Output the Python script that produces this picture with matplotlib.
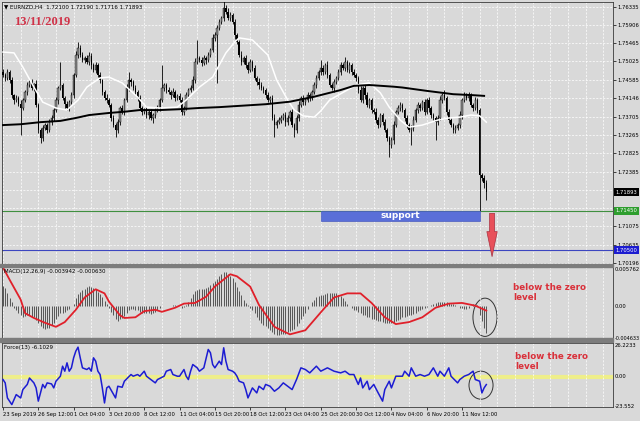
import numpy as np
import matplotlib.pyplot as plt
from matplotlib.patches import Ellipse, Rectangle

# EURNZD H4, bar 0 = 23 Sep 2019 20:00, last bar = 13 Nov 2019
first_open = 1.7478
closes = [
    1.7470, 1.7463, 1.7477, 1.7458, 1.7422, 1.7410, 1.7415, 1.7400, 1.7391, 1.7410,
    1.7429, 1.7446, 1.7453, 1.7439, 1.7448, 1.7398, 1.7338, 1.7319, 1.7343, 1.7350,
    1.7338, 1.7357, 1.7367, 1.7386, 1.7410, 1.7439, 1.7446, 1.7415, 1.7400, 1.7391,
    1.7405, 1.7422, 1.7470, 1.7518, 1.7535, 1.7518, 1.7506, 1.7511, 1.7501, 1.7516,
    1.7494, 1.7482, 1.7494, 1.7470, 1.7458, 1.7429, 1.7415, 1.7410, 1.7398, 1.7367,
    1.7350, 1.7338, 1.7357, 1.7391, 1.7381, 1.7410, 1.7439, 1.7458, 1.7453, 1.7439,
    1.7429, 1.7415, 1.7391, 1.7381, 1.7386, 1.7374, 1.7381, 1.7367, 1.7374, 1.7386,
    1.7391, 1.7410, 1.7439, 1.7446, 1.7434, 1.7429, 1.7422, 1.7429, 1.7415, 1.7420,
    1.7410, 1.7381, 1.7391, 1.7422, 1.7434, 1.7439, 1.7458, 1.7501, 1.7511, 1.7506,
    1.7499, 1.7511, 1.7506, 1.7518, 1.7530, 1.7559, 1.7566, 1.7583, 1.7597, 1.7607,
    1.7631, 1.7621, 1.7607, 1.7614, 1.7597, 1.7566, 1.7549, 1.7518, 1.7501, 1.7511,
    1.7494, 1.7482, 1.7501, 1.7487, 1.7463, 1.7453, 1.7446, 1.7439, 1.7434, 1.7422,
    1.7410, 1.7415, 1.7367, 1.7350, 1.7357, 1.7362, 1.7367, 1.7374, 1.7357, 1.7367,
    1.7381, 1.7350, 1.7338, 1.7367, 1.7398, 1.7415, 1.7405, 1.7410, 1.7422, 1.7415,
    1.7429, 1.7446, 1.7463, 1.7477, 1.7487, 1.7477, 1.7494, 1.7470, 1.7446, 1.7439,
    1.7453, 1.7463, 1.7477, 1.7494, 1.7487, 1.7501, 1.7482, 1.7494, 1.7477, 1.7470,
    1.7463, 1.7434, 1.7410, 1.7439, 1.7422, 1.7398, 1.7410, 1.7386, 1.7381, 1.7362,
    1.7350, 1.7374, 1.7357, 1.7338, 1.7319, 1.7302, 1.7314, 1.7350, 1.7381, 1.7391,
    1.7398, 1.7386, 1.7367, 1.7350, 1.7338, 1.7343, 1.7362, 1.7386, 1.7398, 1.7391,
    1.7405, 1.7381, 1.7410, 1.7391, 1.7374, 1.7367, 1.7357, 1.7367, 1.7410, 1.7422,
    1.7415, 1.7381, 1.7362, 1.7350, 1.7338, 1.7343, 1.7350, 1.7374, 1.7410, 1.7422,
    1.7415, 1.7422, 1.7398, 1.7391, 1.7410, 1.7386, 1.7230, 1.7223, 1.7210, 1.71893,
]
# wicks in pips above / below the body
upper_wick = [
    6, 5, 8, 4, 7, 3, 6, 5, 9, 4, 6, 8, 5, 7, 4, 10, 5, 6, 7, 4,
    5, 8, 6, 4, 7, 5, 55, 6, 4, 8, 5, 7, 6, 9, 15, 6, 8, 5, 7, 10,
    6, 4, 8, 5, 7, 3, 6, 9, 5, 4, 7, 6, 8, 5, 6, 4, 9, 19, 6, 5,
    7, 5, 8, 4, 6, 9, 5, 7, 4, 6, 8, 5, 55, 6, 4, 7, 5, 9, 6, 4,
    6, 8, 5, 7, 4, 6, 9, 10, 43, 5, 7, 6, 4, 8, 5, 9, 6, 7, 8, 5,
    19, 6, 9, 7, 5, 8, 4, 6, 10, 5, 7, 6, 8, 4, 6, 5, 9, 7, 4, 6,
    8, 5, 6, 9, 4, 7, 6, 5, 8, 6, 4, 7, 5, 6, 9, 5, 8, 4, 7, 6,
    5, 8, 6, 4, 19, 7, 5, 9, 6, 4, 8, 5, 7, 6, 4, 12, 6, 8, 5, 7,
    6, 4, 9, 5, 7, 8, 4, 6, 5, 9, 7, 6, 4, 8, 5, 6, 7, 9, 5, 6,
    8, 4, 6, 7, 5, 6, 9, 4, 7, 5, 6, 8, 5, 7, 4, 6, 5, 8, 9, 6,
    12, 5, 7, 6, 4, 8, 5, 9, 6, 7, 5, 8, 4, 6, 7, 5, 5, 6, 8, 9,
]
lower_wick = [
    5, 7, 4, 8, 6, 9, 5, 4, 65, 6, 5, 7, 4, 6, 8, 5, 7, 12, 6, 5,
    8, 4, 6, 7, 5, 9, 4, 6, 8, 5, 7, 4, 6, 5, 8, 6, 4, 7, 5, 6,
    9, 5, 6, 4, 7, 8, 5, 6, 4, 7, 5, 17, 6, 8, 4, 6, 5, 7, 9, 4,
    6, 8, 5, 7, 4, 6, 9, 5, 12, 6, 4, 7, 5, 8, 6, 4, 9, 5, 7, 6,
    5, 8, 6, 4, 7, 5, 6, 8, 4, 6, 7, 5, 9, 4, 6, 5, 8, 115, 6, 4,
    7, 5, 6, 8, 4, 9, 5, 6, 7, 4, 8, 6, 5, 7, 4, 6, 9, 5, 7, 6,
    5, 8, 6, 29, 7, 4, 6, 5, 9, 6, 7, 4, 17, 6, 8, 5, 6, 7, 4, 8,
    6, 5, 7, 4, 6, 8, 5, 7, 4, 6, 9, 5, 6, 7, 4, 8, 5, 6, 7, 4,
    8, 6, 5, 7, 9, 4, 6, 8, 5, 7, 6, 4, 8, 5, 7, 29, 6, 9, 5, 4,
    7, 5, 8, 6, 4, 36, 7, 5, 6, 8, 4, 7, 5, 9, 6, 5, 43, 7, 4, 8,
    5, 7, 6, 4, 8, 6, 5, 7, 9, 4, 6, 8, 5, 7, 4, 6, 86, 8, 12, 18,
]

# moving averages
ma_fast_bars = [0, 5, 9, 14, 18, 24, 29, 34, 38, 44, 48, 54, 61, 65, 71, 79, 83, 89, 95, 101,
                105, 107, 113, 120, 124, 129, 132, 136, 141, 144, 148, 156, 160, 166, 171, 175,
                180, 184, 190, 197, 202, 207, 212, 216, 219]
ma_fast_vals = [1.7525, 1.7523, 1.7489, 1.7441, 1.7405, 1.7391, 1.7386, 1.7410, 1.7441, 1.7463,
                1.7465, 1.7451, 1.7417, 1.7393, 1.7391, 1.7393, 1.7410, 1.7441, 1.7465, 1.7523,
                1.7549, 1.7559, 1.7554, 1.7518, 1.7458, 1.7410, 1.7386, 1.7372, 1.7369, 1.7384,
                1.7410, 1.7434, 1.7446, 1.7451, 1.7427, 1.7393, 1.7362, 1.7345, 1.7350, 1.7362,
                1.7367, 1.7369, 1.7374, 1.7372, 1.7357]
ma_slow_bars = [0, 8, 17, 26, 33, 39, 48, 55, 62, 71, 80, 89, 98, 107, 119, 130, 141, 153, 159,
                166, 177, 181, 192, 204, 212, 218]
ma_slow_vals = [1.7350, 1.7352, 1.7357, 1.7360, 1.7367, 1.7374, 1.7379, 1.7382, 1.7386, 1.7386,
                1.7388, 1.7391, 1.7393, 1.7396, 1.7400, 1.7406, 1.7418, 1.7434, 1.7444, 1.7446,
                1.7442, 1.7440, 1.7432, 1.7424, 1.7422, 1.7420]

# MACD(12,26,9)
macd_hist = [
    0.0030, 0.0027, 0.0020, 0.0012, 0.0006, -0.0003, -0.0006, -0.0009, -0.0012, -0.0015,
    -0.0014, -0.0012, -0.0013, -0.0015, -0.0016, -0.0020, -0.0025, -0.0029, -0.0031, -0.0033,
    -0.0032, -0.0031, -0.0028, -0.0024, -0.0019, -0.0014, -0.0010, -0.0009, -0.0008, -0.0006,
    -0.0004, 0.0000, 0.0004, 0.0012, 0.0018, 0.0021, 0.0024, 0.0026, 0.0028, 0.0030,
    0.0029, 0.0027, 0.0025, 0.0021, 0.0018, 0.0013, 0.0008, 0.0003, -0.0003, -0.0008,
    -0.0013, -0.0018, -0.0021, -0.0019, -0.0017, -0.0014, -0.0010, -0.0006, -0.0004, -0.0004,
    -0.0005, -0.0006, -0.0008, -0.0009, -0.0009, -0.0010, -0.0010, -0.0011, -0.0010, -0.0008,
    -0.0006, -0.0003, 0.0000, 0.0001, 0.0001, 0.0000, 0.0001, 0.0002, 0.0002, 0.0001,
    0.0000, -0.0002, -0.0001, 0.0002, 0.0006, 0.0012, 0.0018, 0.0022, 0.0024, 0.0025,
    0.0026, 0.0026, 0.0027, 0.0029, 0.0031, 0.0034, 0.0037, 0.0040, 0.0044, 0.0047,
    0.0050, 0.0050, 0.0048, 0.0045, 0.0041, 0.0035, 0.0029, 0.0023, 0.0016, 0.0010,
    0.0005, 0.0002, -0.0002, -0.0005, -0.0010, -0.0015, -0.0020, -0.0024, -0.0027, -0.0029,
    -0.0031, -0.0034, -0.0038, -0.0041, -0.0042, -0.0042, -0.0041, -0.0041, -0.0040, -0.0038,
    -0.0036, -0.0034, -0.0033, -0.0029, -0.0024, -0.0019, -0.0014, -0.0009, -0.0004, 0.0001,
    0.0006, 0.0010, 0.0013, 0.0015, 0.0016, 0.0017, 0.0018, 0.0019, 0.0019, 0.0020,
    0.0020, 0.0019, 0.0017, 0.0015, 0.0012, 0.0008, 0.0004, 0.0001, -0.0002, -0.0005,
    -0.0006, -0.0008, -0.0010, -0.0012, -0.0013, -0.0015, -0.0016, -0.0018, -0.0019, -0.0020,
    -0.0021, -0.0022, -0.0023, -0.0024, -0.0025, -0.0025, -0.0025, -0.0024, -0.0022, -0.0020,
    -0.0018, -0.0016, -0.0015, -0.0014, -0.0013, -0.0012, -0.0011, -0.0009, -0.0007, -0.0005,
    -0.0004, -0.0002, -0.0001, 0.0001, 0.0002, 0.0004, 0.0005, 0.0006, 0.0006, 0.0007,
    0.0007, 0.0006, 0.0005, 0.0004, 0.0003, 0.0002, 0.0000, -0.0002, -0.0003, -0.0004,
    -0.0004, -0.0002, 0.0001, 0.0003, 0.0004, 0.0002, -0.0012, -0.0022, -0.0031, -0.003942,
]
signal_bars = [0, 3, 8, 10, 14, 19, 24, 28, 33, 37, 42, 46, 48, 53, 55, 60, 64, 69, 72, 78,
               82, 87, 92, 96, 103, 106, 112, 116, 123, 130, 137, 145, 150, 156, 162, 167, 173,
               178, 184, 190, 196, 202, 208, 214, 219]
signal_vals = [0.0057, 0.0039, 0.0010, -0.0010, -0.0017, -0.0024, -0.0030, -0.0023, -0.0005,
               0.0013, 0.0025, 0.0019, 0.0007, -0.0013, -0.0017, -0.0016, -0.0007, -0.0005,
               -0.0008, -0.0002, 0.0004, 0.0005, 0.0014, 0.0029, 0.0047, 0.0044, 0.0029, 0.0002,
               -0.0030, -0.0041, -0.0035, -0.0005, 0.0013, 0.0019, 0.0019, 0.0005, -0.0016,
               -0.0026, -0.0023, -0.0016, -0.0002, 0.0004, 0.0005, 0.0001, -0.00063]

# Force(13)
force_bars = [0, 1, 2, 4, 6, 8, 9, 11, 12, 14, 15, 16, 18, 19, 20, 22, 23, 24, 26, 27,
              28, 29, 30, 31, 32, 33, 34, 35, 36, 38, 39, 40, 41, 42, 43, 44, 45, 46, 47, 48,
              51, 52, 54, 55, 58, 59, 61, 62, 64, 65, 67, 69, 70, 73, 74, 76, 77, 79, 80, 82,
              83, 84, 85, 86, 88, 89, 91, 93, 94, 95, 96, 98, 99, 100, 101, 102, 104, 105, 106, 107,
              109, 110, 111, 113, 115, 116, 118, 119, 121, 123, 125, 127, 129, 131, 133, 135, 137, 139, 142, 144,
              147, 150, 153, 155, 157, 159, 161, 162, 163, 165, 166, 168, 170, 172, 173, 175, 176, 178, 181, 182,
              184, 185, 187, 189, 191, 193, 195, 197, 198, 200, 202, 203, 206, 207, 209, 211, 213, 214, 216, 217,
              218, 219]
force_vals = [-2.2, -4.8, -16.5, -21.7, -13.9, -16.5, -10, -6, -1, -4.8, -8.7, -19, -6, -8.7, -4.8, -5.6, -8.7, -3.5, 0.4, 8.2,
              4.3, 10.8, 4.3, 6.9, 14.7, 19.9, 23, 14.7, 6.9, 5.6, 6.9, 4.3, 14.7, 12.1, 4.3, 1.7, -8.7, -20.4, -8.7, -7.4,
              -16.5, -7.4, -8.2, -3.5, 1.7, 0.4, 1.7, 0.4, 4.3, 0.4, -2.2, -4.8, -2.2, 0.4, 4.3, 5.6, 1.7, 0.4, 0.4, 5.6,
              0.4, -2.2, 4.3, 9.5, 6.9, 4.3, 6.9, 21.2, 18.6, 9.5, 6.9, 12.1, 9.5, 22.5, 12.1, 5.6, 4.3, 3, 0.4, -3.5,
              -4.8, -10, -16.5, -8.7, -12.6, -7.4, -10, -6, -7.4, -11.3, -8.7, -4.8, -7.4, -10, -2.2, 6.9, 5.6, 3, 8.2, 4.3,
              6.9, 4.3, 3, 4.3, 1.7, 1.7, -6, -1, -8.7, -3.5, -10, -6, -12.6, -19, -10, -3.5, -8.7, 0.4, 0.4, 4.3,
              0.4, 6.9, 0.4, 1.7, 0.4, 1.7, 6.9, 0.4, 4.3, 0.4, 6.9, 0.4, -4.8, -2.2, 0.4, 1.7, 4.3, -2.2, -3.5, -12.6,
              -8.7, -6.1]

price_ticks = [1.76335, 1.75906, 1.75465, 1.75025, 1.74585, 1.74146, 1.73705, 1.73265,
               1.72825, 1.72385, 1.71945, 1.71505, 1.71075, 1.70635, 1.70196]
date_labels = ['23 Sep 2019', '26 Sep 12:00', '1 Oct 04:00', '3 Oct 20:00', '8 Oct 12:00',
               '11 Oct 04:00', '15 Oct 20:00', '18 Oct 12:00', '23 Oct 04:00', '25 Oct 20:00',
               '30 Oct 12:00', '4 Nov 04:00', '6 Nov 20:00', '11 Nov 12:00']

support_level = 1.7145
target_level = 1.7050
arrow_tip = 1.7028
support_box = (144, 216, 1.7120)   # from bar, to bar, lower edge
last_price = 1.71893
macd_range = (-0.004633, 0.005762)
force_range = (-23.552, 26.2233)

# ---------------------------------------------------------------
closes = np.array(closes)
bars = np.arange(len(closes))
opens = np.r_[first_open, closes[:-1]]
highs = np.maximum(opens, closes) + np.array(upper_wick) * 0.0001
lows = np.minimum(opens, closes) - np.array(lower_wick) * 0.0001

BG = '#d9d9d9'
W, H = 640, 421
LBL = 3.8
fig = plt.figure(figsize=(6.4, 4.21), dpi=100, facecolor=BG)

def box(top, bottom):
    return [2 / W, 1 - bottom / H, 611 / W, (bottom - top) / H]

ax1 = fig.add_axes(box(2, 264))
ax2 = fig.add_axes(box(267, 338))
ax3 = fig.add_axes(box(343, 407))

xlim = (-0.45, 276.4)
for ax in (ax1, ax2, ax3):
    ax.set_facecolor(BG)
    ax.set_xlim(*xlim)
    for s in ax.spines.values():
        s.set_color('#3a3a3a')
        s.set_linewidth(0.6)
    ax.set_xticks(np.arange(0, 277, 8), minor=True)
    ax.grid(True, which='minor', axis='x', color='white', lw=0.5, ls=(0, (3, 2)))

# ---- price panel
ax1.set_ylim(1.7017, 1.7645)
ax1.set_xticks([])
ax1.yaxis.tick_right()
ax1.set_yticks(price_ticks)
# the level boxes hide the labels that sit under them
ax1.set_yticklabels(['' if abs(v - support_level) < 0.001 else f'{v:.5f}' for v in price_ticks])
ax1.tick_params(axis='y', labelsize=LBL, length=2, pad=1, width=0.5)
ax1.grid(True, axis='y', color='white', lw=0.5, ls=(0, (3, 2)))

ax1.vlines(bars, lows, highs, color='black', lw=0.6, zorder=3)
up = closes >= opens
ax1.bar(bars[up], (closes - opens)[up], bottom=opens[up], width=0.62,
        color='#8e8e8e', edgecolor='black', lw=0.3, zorder=4)
ax1.bar(bars[~up], (opens - closes)[~up], bottom=closes[~up], width=0.62,
        color='black', zorder=4)

ax1.plot(ma_fast_bars, ma_fast_vals, color='white', lw=1.1, zorder=5)
ax1.plot(ma_slow_bars, ma_slow_vals, color='black', lw=1.4, zorder=5)

ax1.axhline(support_level, color='#3f8f3f', lw=0.8, zorder=2)
ax1.axhline(target_level, color='#3c46c0', lw=0.8, zorder=2)

sb0, sb1, sb_low = support_box
ax1.add_patch(Rectangle((sb0, sb_low), sb1 - sb0, support_level - sb_low,
                        fc='#5a6fd8', ec='#4a5cc0', lw=0.5, zorder=6))
ax1.text((sb0 + sb1) / 2, (support_level + sb_low) / 2, 'support', color='white',
         fontsize=6.5, fontweight='bold', ha='center', va='center', zorder=7)

ax1.annotate('', xy=(221.6, arrow_tip), xytext=(221.6, support_level),
             arrowprops=dict(arrowstyle='simple,head_length=1.8,head_width=0.75,tail_width=0.36',
                             mutation_scale=10, fc='#e8505a', ec='#a83040', lw=0.5),
             zorder=7)

ax1.text(5, 1.7597, '13/11/2019', color='#d03248', fontsize=9, fontweight='bold',
         family='Liberation Serif', ha='left', va='center')
ax1.text(0.004, 0.99, '\u25bc EURNZD,H4  1.72100 1.72190 1.71716 1.71893',
         transform=ax1.transAxes, fontsize=4, ha='left', va='top')

ytr = ax1.get_yaxis_transform()
for val, fc in ((last_price, 'black'), (support_level, '#2e9e2e'), (target_level, '#1c1cd0')):
    ax1.text(1.004, val, f'{val:.5f}', transform=ytr, fontsize=LBL, color='white',
             ha='left', va='center', zorder=10,
             bbox=dict(boxstyle='square,pad=0.3', fc=fc, ec='none'))

# ---- MACD panel
ax2.set_ylim(*macd_range)
ax2.set_xticks([])
ax2.set_yticks([])
ax2.vlines(bars, 0, macd_hist, color='#555555', lw=0.7)
ax2.plot(signal_bars, signal_vals, color='#e0202a', lw=1.3)
ax2.text(0.004, 0.97, 'MACD(12,26,9) -0.003942 -0.000630', transform=ax2.transAxes,
         fontsize=4, ha='left', va='top')
ytr2 = ax2.get_yaxis_transform()
ax2.text(1.003, macd_range[1], '0.005762', transform=ytr2, fontsize=LBL, va='top')
ax2.text(1.003, 0, '0.00', transform=ytr2, fontsize=LBL, va='center')
ax2.text(1.003, macd_range[0], '-0.004633', transform=ytr2, fontsize=LBL - 0.3, va='center')
ax2.add_patch(Ellipse((218.4, -0.0016), 10.9, 0.0056, fill=False, ec='#333333', lw=0.7))
ax2.text(231, 0.0034, 'below the zero\nlevel', color='#d9303a', fontsize=6.3,
         fontweight='bold', ha='left', va='top', linespacing=1.1)

# ---- Force panel
ax3.set_ylim(*force_range)
ax3.set_yticks([])
ax3.axhline(0, color='#eeee8a', lw=3, zorder=1)
ax3.plot(force_bars, force_vals, color='#1c1cd2', lw=1.1, zorder=3)
ax3.text(0.004, 0.97, 'Force(13) -6.1029', transform=ax3.transAxes,
         fontsize=4, ha='left', va='top')
ytr3 = ax3.get_yaxis_transform()
ax3.text(1.003, force_range[1], '26.2233', transform=ytr3, fontsize=LBL, va='top')
ax3.text(1.003, 0, '0.00', transform=ytr3, fontsize=LBL, va='center')
ax3.text(1.003, force_range[0], '-23.552', transform=ytr3, fontsize=LBL, va='center')
ax3.add_patch(Ellipse((216.6, -6.6), 10.9, 21.8, fill=False, ec='#333333', lw=0.7))
ax3.text(232, 19, 'below the zero\nlevel', color='#d9303a', fontsize=6.3,
         fontweight='bold', ha='left', va='top', linespacing=1.1)

ax3.set_xticks(np.arange(0, 16 * len(date_labels), 16))
ax3.set_xticklabels(date_labels, fontsize=LBL, ha='left')
ax3.tick_params(axis='x', which='major', length=2, pad=1.5, width=0.5)
ax3.tick_params(axis='x', which='minor', length=0)

# panel separators
for top, bottom in ((264, 267), (338, 342)):
    fig.add_artist(Rectangle((0, 1 - bottom / H), 613 / W, (bottom - top) / H,
                             transform=fig.transFigure, color='#7c7c7c', zorder=20))

fig.savefig('out.png', dpi=100, facecolor=BG)
